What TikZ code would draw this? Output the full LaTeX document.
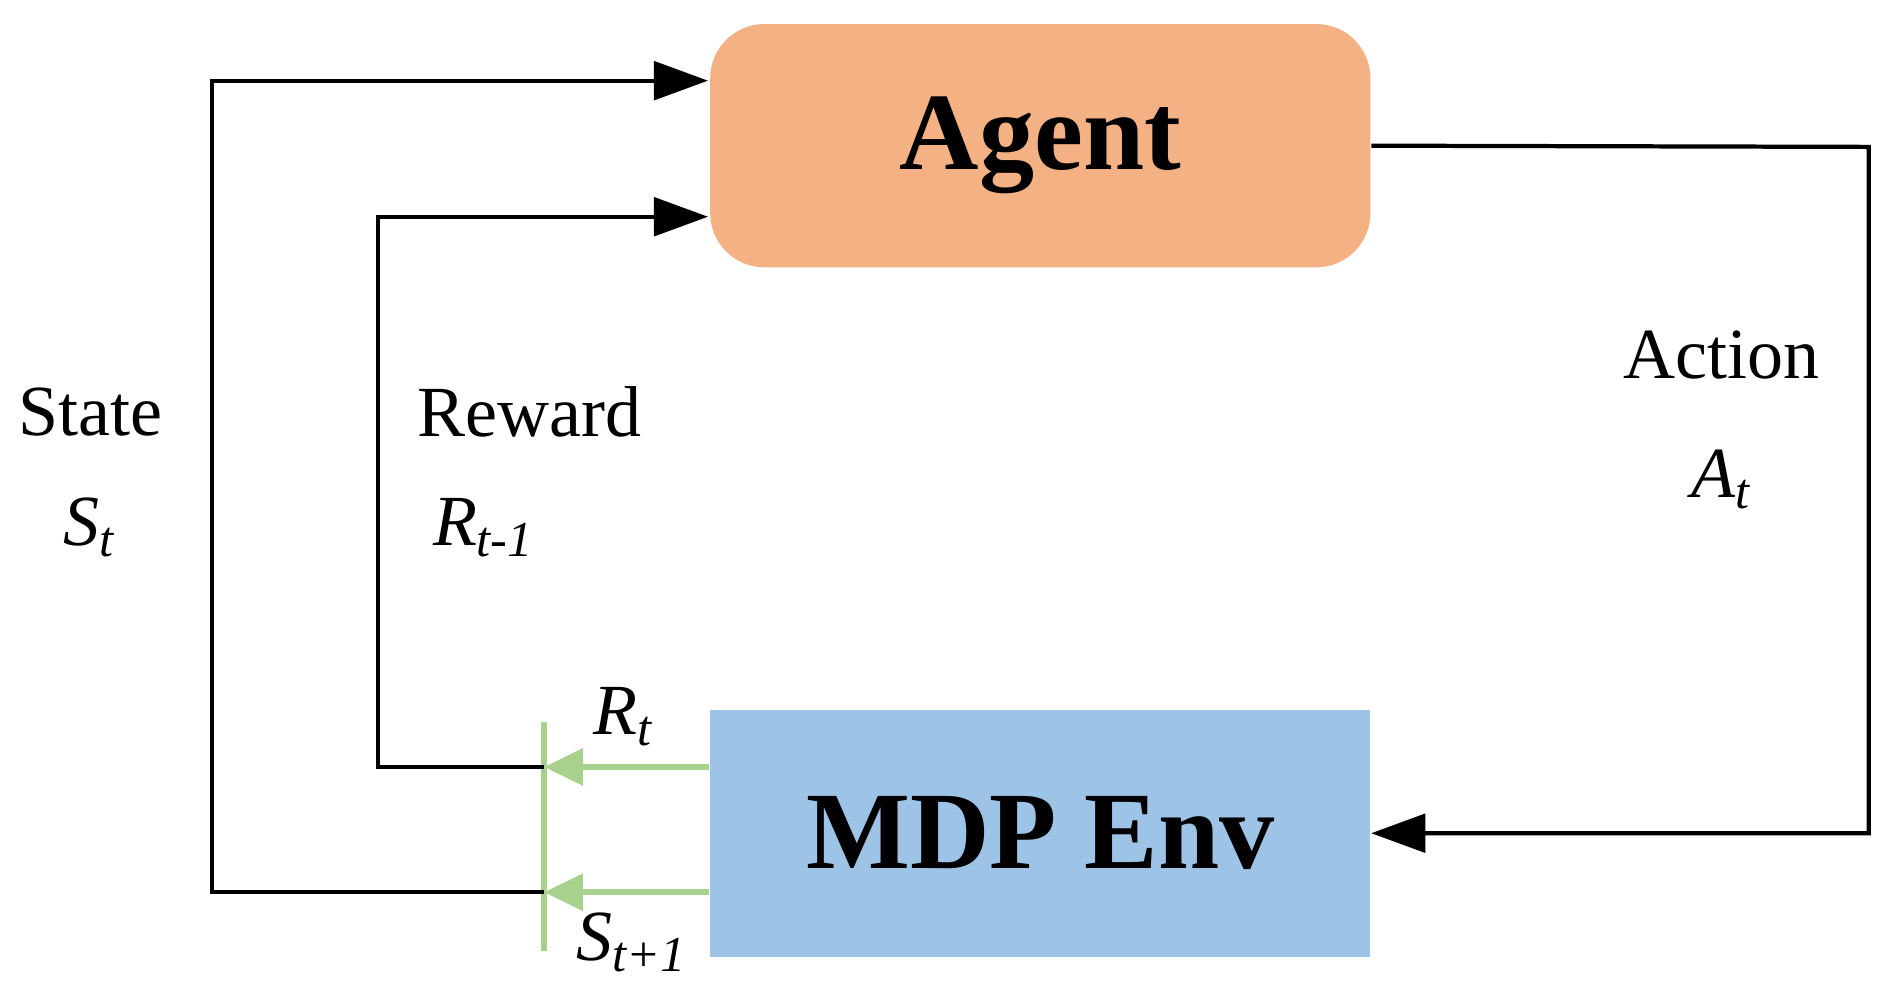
\documentclass[tikz,border=0pt]{standalone}
\usepackage{fontspec}
\setmainfont{Liberation Serif}
\usetikzlibrary{arrows.meta}
\definecolor{agentc}{HTML}{F4B183}
\definecolor{envc}{HTML}{9DC3E6}
\definecolor{grn}{HTML}{A9D18E}
\begin{document}
\begin{tikzpicture}[x=0.01cm,y=-0.01cm,
  ln/.style={line width=1pt,black},
  arr/.style={ln,-{Triangle[length=0.45cm,width=0.32cm]}},
  garr/.style={line width=1.3pt,grn,-{Triangle[length=0.32cm,width=0.3cm]}},
  lab/.style={font=\fontsize{17}{20}\selectfont,inner sep=0pt}]
\useasboundingbox (0,0) rectangle (1568,837);
\node[fill=agentc,rounded corners=0.45cm,minimum width=5.48cm,minimum height=2.02cm,font=\fontsize{26}{30}\selectfont\bfseries] (agent) at (864,121) {Agent};
\node[fill=envc,minimum width=5.48cm,minimum height=2.05cm,font=\fontsize{26}{30}\selectfont\bfseries] (env) at (864,692) {MDP Env};
\coordinate (gr) at (452,637);
\coordinate (gs) at (452,741);
\coordinate (gt) at (452,600);
\coordinate (gb) at (452,790);
\draw[line width=1.3pt,grn] (gt) -- (gb);
\draw[garr] (env.west |- gr) -- (gr);
\draw[garr] (env.west |- gs) -- (gs);
\coordinate (sa) at (588,67);
\coordinate (ra) at (588,180);
\draw[arr] (gs) -- (176,741) -- (176,67) -- (sa);
\draw[arr] (gr) -- (314,637) -- (314,180) -- (ra);
\draw[arr] (agent.east) -- (1552,122) -- (1552,692) -- (env.east);
\node[lab] (st) at (75,342) {State};
\node[lab] (stv) at (75,438) {\textit{S}\textsubscript{\textit{t}}};
\node[lab] (rw) at (440,342) {Reward};
\node[lab] (rwv) at (402,438) {\textit{R}\textsubscript{\textit{t-1}}};
\node[lab] (ac) at (1430,295) {Action};
\node[lab] (acv) at (1430,398) {\textit{A}\textsubscript{\textit{t}}};
\node[lab] (rt) at (518,595) {\textit{R}\textsubscript{\textit{t}}};
\node[lab] (st1) at (525,783) {\textit{S}\textsubscript{\textit{t+1}}};
\end{tikzpicture}
\end{document}
